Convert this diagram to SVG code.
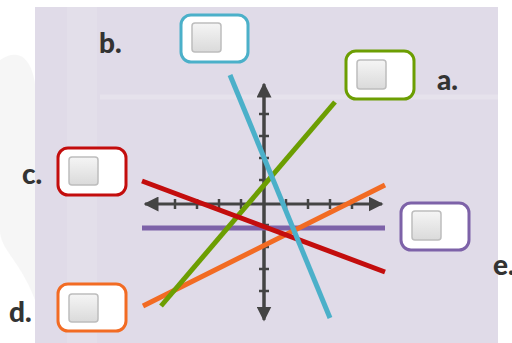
<svg xmlns="http://www.w3.org/2000/svg" width="512" height="343" viewBox="0 0 512 343">
  <defs>
    <linearGradient id="chk" x1="0" y1="0" x2="0" y2="1">
      <stop offset="0" stop-color="#f5f5f5"/>
      <stop offset="1" stop-color="#dadada"/>
    </linearGradient>
    <marker id="ah" viewBox="0 0 10 10" refX="9" refY="5" markerWidth="5" markerHeight="5" markerUnits="strokeWidth" orient="auto">
      <path d="M0,0 L10,5 L0,10 Z" fill="#444"/>
    </marker>
  </defs>
  <style>
    .box{fill:#fff;stroke-width:3}
    .chk{fill:url(#chk);stroke:#bdbdbd;stroke-width:1.5}
    .lbl{font-family:Lato,"Liberation Sans",sans-serif;font-weight:900;font-size:28px;fill:#333}
    .axis{stroke:#444;stroke-width:3;fill:none}
    .tick{stroke:#444;stroke-width:2.5}
    .ln{stroke-width:5;fill:none;stroke-linecap:butt}
  </style>
  <rect width="512" height="343" fill="#fff"/>
  <g id="background-decor" opacity="0.5">
    <path d="M0,60 C30,40 40,80 35,120 L35,300 C20,260 0,250 0,230 Z" fill="#eeeeee"/>
  </g>
  <rect x="35" y="7" width="463" height="336" fill="#e0dbe8"/>
  <g id="panel-decor" stroke="#e6e2ec" fill="none">
    <line x1="100" y1="97" x2="498" y2="97" stroke-width="5"/>
    <line x1="82" y1="7" x2="82" y2="343" stroke-width="30" stroke="#e3dfea"/>
  </g>

  <g id="axes">
    <line class="axis" x1="264" y1="318" x2="264" y2="84" marker-end="url(#ah)"/>
    <line class="axis" x1="264" y1="90" x2="264" y2="320" marker-end="url(#ah)"/>
    <line class="axis" x1="264" y1="204" x2="382" y2="204" marker-end="url(#ah)"/>
    <line class="axis" x1="264" y1="204" x2="145" y2="204" marker-end="url(#ah)"/>
    <g class="tick">
      <line x1="175" y1="199" x2="175" y2="209"/>
      <line x1="197" y1="199" x2="197" y2="209"/>
      <line x1="219" y1="199" x2="219" y2="209"/>
      <line x1="241" y1="199" x2="241" y2="209"/>
      <line x1="286" y1="199" x2="286" y2="209"/>
      <line x1="308" y1="199" x2="308" y2="209"/>
      <line x1="330" y1="199" x2="330" y2="209"/>
      <line x1="352" y1="199" x2="352" y2="209"/>
      <line x1="259" y1="114" x2="269" y2="114"/>
      <line x1="259" y1="136" x2="269" y2="136"/>
      <line x1="259" y1="158" x2="269" y2="158"/>
      <line x1="259" y1="180" x2="269" y2="180"/>
      <line x1="259" y1="225" x2="269" y2="225"/>
      <line x1="259" y1="247" x2="269" y2="247"/>
      <line x1="259" y1="269" x2="269" y2="269"/>
      <line x1="259" y1="291" x2="269" y2="291"/>
    </g>
  </g>

  <g id="connectors">
    <line id="line-e" class="ln" stroke="#7d62a8" x1="142" y1="228" x2="385" y2="228"/>
    <line id="line-d" class="ln" stroke="#f26b23" x1="143" y1="306" x2="385" y2="185"/>
    <line id="line-a" class="ln" stroke="#6c9e02" x1="161" y1="306" x2="335" y2="102"/>
    <line id="line-c" class="ln" stroke="#c30d0d" x1="142" y1="181" x2="385" y2="272"/>
    <line id="line-b" class="ln" stroke="#4bb0c9" x1="230" y1="75" x2="330" y2="318"/>
  </g>

  <g id="option-b">
    <rect class="box" stroke="#4bb0c9" x="181" y="15" width="67" height="47" rx="10"/>
    <rect class="chk" x="192" y="23" width="29" height="29" rx="3"/>
    <text class="lbl" x="99" y="53">b.</text>
  </g>
  <g id="option-a">
    <rect class="box" stroke="#6c9e02" x="346" y="51" width="68" height="48" rx="10"/>
    <rect class="chk" x="357" y="60" width="29" height="29" rx="3"/>
    <text class="lbl" x="437" y="90">a.</text>
  </g>
  <g id="option-c">
    <rect class="box" stroke="#c30d0d" x="58" y="148" width="68" height="47" rx="10"/>
    <rect class="chk" x="69" y="157" width="29" height="28" rx="3"/>
    <text class="lbl" x="22" y="184">c.</text>
  </g>
  <g id="option-d">
    <rect class="box" stroke="#f26b23" x="58" y="284" width="68" height="47" rx="10"/>
    <rect class="chk" x="69" y="294" width="29" height="28" rx="3"/>
    <text class="lbl" x="9" y="322">d.</text>
  </g>
  <g id="option-e">
    <rect class="box" stroke="#7d62a8" x="401" y="203" width="68" height="47" rx="10"/>
    <rect class="chk" x="412" y="211" width="29" height="29" rx="3"/>
    <text class="lbl" x="493" y="275">e.</text>
  </g>
</svg>
